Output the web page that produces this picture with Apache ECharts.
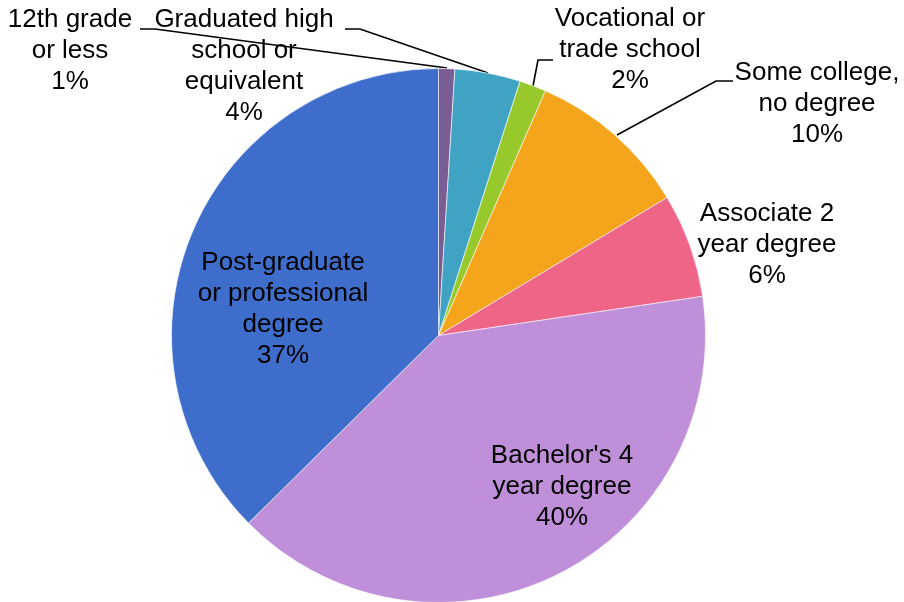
<!DOCTYPE html>
<html>
<head>
<meta charset="utf-8">
<script src="https://cdn.jsdelivr.net/npm/echarts@6/dist/echarts.min.js"></script>
<style>
  html, body { margin: 0; padding: 0; background: #fff; }
  #chart { width: 904px; height: 602px; }
</style>
</head>
<body>
<div id="chart"></div>
<script>
// categories, clockwise from 12 o'clock
var categories = [
    '12th grade\nor less',
    'Graduated high\nschool or\nequivalent',
    'Vocational or\ntrade school',
    'Some college,\nno degree',
    'Associate 2\nyear degree',
    "Bachelor's 4\nyear degree",
    'Post-graduate\nor professional\ndegree'
]
// share of respondents (%)
var shares = [0.98, 3.96, 1.62, 9.8, 6.3, 39.95, 37.4]
var colors = ['#7a5d94', '#41a3c3', '#97c92c', '#f4a51c', '#ef6587', '#bf8fd9', '#3f6dcb']

// where each label sits and its leader line (pixels)
var labelPos = [[70, 51], [244, 66], [630, 50], [817, 104], [767, 245], [562, 487], [283, 309]]
var leaderLines = [
    [[447, 68], [155, 29], [140, 29]],
    [[488, 73], [360, 29], [345, 29]],
    [[533, 86], [538, 60], [553, 60]],
    [[617, 135], [716, 81], [733, 81]],
    null, null, null
]

var chart = echarts.init(document.getElementById('chart'))

var data = []
for (var i = 0; i < categories.length; i++) {
    data.push({
        name: categories[i],
        value: shares[i],
        itemStyle: { color: colors[i] },
        labelLine: { show: leaderLines[i] != null }
    })
}

chart.setOption({
    animation: false,
    series: [
        {
            type: 'pie',
            center: [438.5, 335.5],
            radius: 267,
            startAngle: 90,
            clockwise: true,
            avoidLabelOverlap: false,
            silent: true,
            itemStyle: {
                borderColor: '#ffffff',
                borderWidth: 0.6
            },
            label: {
                position: 'outside',
                color: '#000',
                fontFamily: 'Liberation Sans, Arial, sans-serif',
                fontSize: 26,
                lineHeight: 31,
                align: 'center',
                formatter: function (p) {
                    return p.name + '\n' + Math.round(p.percent) + '%'
                }
            },
            labelLine: {
                show: true,
                lineStyle: { color: '#000', width: 1.6 }
            },
            labelLayout: function (params) {
                var p = labelPos[params.dataIndex]
                var out = { x: p[0], y: p[1], align: 'center', verticalAlign: 'middle' }
                if (leaderLines[params.dataIndex]) {
                    out.labelLinePoints = leaderLines[params.dataIndex]
                }
                return out
            },
            data: data
        }
    ]
})
</script>
</body>
</html>
